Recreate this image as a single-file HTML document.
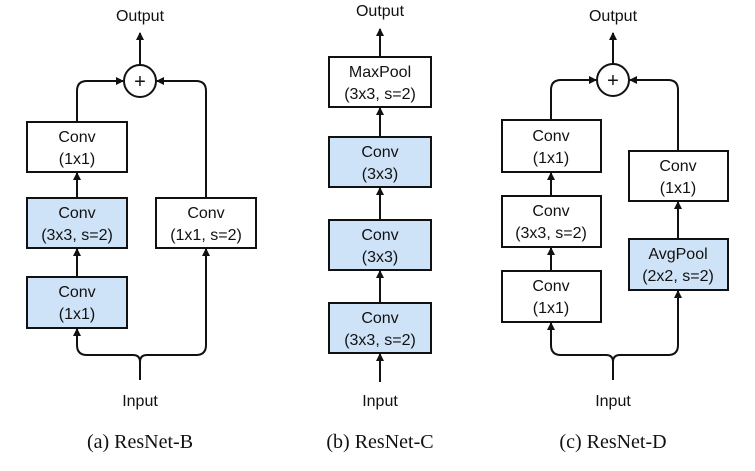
<!DOCTYPE html>
<html><head><meta charset="utf-8"><style>
html,body{margin:0;padding:0;background:#fff}
svg{display:block}
text{font-family:"Liberation Sans",sans-serif;font-size:16px;fill:#111;text-anchor:middle}
.cap{font-family:"Liberation Serif",serif;font-size:20px}
.plus{font-size:20px}
rect{stroke:#111;stroke-width:2}
.w{fill:#fff}.b{fill:#cfe3f8}
path,line{stroke:#111;stroke-width:2;fill:none}
</style></head><body>
<svg width="755" height="471" viewBox="0 0 755 471" xmlns="http://www.w3.org/2000/svg">
<defs><marker id="a" markerWidth="8" markerHeight="8" refX="7" refY="4" orient="auto" markerUnits="userSpaceOnUse"><path d="M0,0 L8,4 L0,8 Z" style="fill:#111;stroke:none"/></marker></defs>

<!-- (a) -->
<text x="140" y="21">Output</text>
<line x1="140" y1="65" x2="140" y2="33" marker-end="url(#a)"/>
<circle cx="140" cy="81" r="16" fill="#fff" stroke="#111" stroke-width="2"/>
<text class="plus" x="140" y="88">+</text>
<path d="M77,122 V91 Q77,81 87,81 H123" marker-end="url(#a)"/>
<path d="M206,198 V91 Q206,81 196,81 H157" marker-end="url(#a)"/>
<rect class="w" x="27" y="122" width="100" height="50"/>
<text x="77" y="142">Conv</text><text x="77" y="164">(1x1)</text>
<line x1="77" y1="198" x2="77" y2="173" marker-end="url(#a)"/>
<rect class="b" x="27" y="198" width="100" height="50"/>
<text x="77" y="218">Conv</text><text x="77" y="240">(3x3, s=2)</text>
<line x1="77" y1="277" x2="77" y2="249" marker-end="url(#a)"/>
<rect class="b" x="27" y="277" width="100" height="51"/>
<text x="77" y="297">Conv</text><text x="77" y="319">(1x1)</text>
<rect class="w" x="156" y="198" width="100" height="50"/>
<text x="206" y="218">Conv</text><text x="206" y="240">(1x1, s=2)</text>
<path d="M140,380 V362 Q140,355 133,355 H87 Q77,355 77,345 V329" marker-end="url(#a)"/>
<path d="M140,362 Q140,355 147,355 H196 Q206,355 206,345 V249" marker-end="url(#a)"/>
<text x="140" y="406">Input</text>
<text class="cap" x="140" y="448">(a) ResNet-B</text>

<!-- (b) -->
<text x="380" y="16">Output</text>
<line x1="380" y1="57" x2="380" y2="29" marker-end="url(#a)"/>
<rect class="w" x="329" y="57" width="102" height="50"/>
<text x="380" y="77">MaxPool</text><text x="380" y="99">(3x3, s=2)</text>
<line x1="380" y1="137" x2="380" y2="108" marker-end="url(#a)"/>
<rect class="b" x="329" y="137" width="102" height="50"/>
<text x="380" y="157">Conv</text><text x="380" y="179">(3x3)</text>
<line x1="380" y1="220" x2="380" y2="188" marker-end="url(#a)"/>
<rect class="b" x="329" y="220" width="102" height="50"/>
<text x="380" y="240">Conv</text><text x="380" y="262">(3x3)</text>
<line x1="380" y1="303" x2="380" y2="271" marker-end="url(#a)"/>
<rect class="b" x="329" y="303" width="102" height="50"/>
<text x="380" y="323">Conv</text><text x="380" y="345">(3x3, s=2)</text>
<line x1="380" y1="382" x2="380" y2="354" marker-end="url(#a)"/>
<text x="380" y="406">Input</text>
<text class="cap" x="380" y="448">(b) ResNet-C</text>

<!-- (c) -->
<text x="613" y="21">Output</text>
<line x1="613" y1="64" x2="613" y2="33" marker-end="url(#a)"/>
<circle cx="613" cy="80" r="16" fill="#fff" stroke="#111" stroke-width="2"/>
<text class="plus" x="613" y="87">+</text>
<path d="M551,120 V90 Q551,80 561,80 H596" marker-end="url(#a)"/>
<path d="M678,151 V90 Q678,80 668,80 H630" marker-end="url(#a)"/>
<rect class="w" x="502" y="120" width="99" height="52"/>
<text x="551" y="141">Conv</text><text x="551" y="163">(1x1)</text>
<line x1="551" y1="196" x2="551" y2="173" marker-end="url(#a)"/>
<rect class="w" x="502" y="196" width="99" height="51"/>
<text x="551" y="216">Conv</text><text x="551" y="238">(3x3, s=2)</text>
<line x1="551" y1="271" x2="551" y2="248" marker-end="url(#a)"/>
<rect class="w" x="502" y="271" width="99" height="51"/>
<text x="551" y="291">Conv</text><text x="551" y="313">(1x1)</text>
<rect class="w" x="629" y="151" width="99" height="50"/>
<text x="678" y="171">Conv</text><text x="678" y="193">(1x1)</text>
<line x1="678" y1="239" x2="678" y2="202" marker-end="url(#a)"/>
<rect class="b" x="629" y="239" width="99" height="51"/>
<text x="678" y="259">AvgPool</text><text x="678" y="281">(2x2, s=2)</text>
<path d="M613,380 V362 Q613,355 606,355 H561 Q551,355 551,345 V323" marker-end="url(#a)"/>
<path d="M613,362 Q613,355 620,355 H668 Q678,355 678,345 V291" marker-end="url(#a)"/>
<text x="613" y="406">Input</text>
<text class="cap" x="613" y="448">(c) ResNet-D</text>
</svg>
</body></html>
